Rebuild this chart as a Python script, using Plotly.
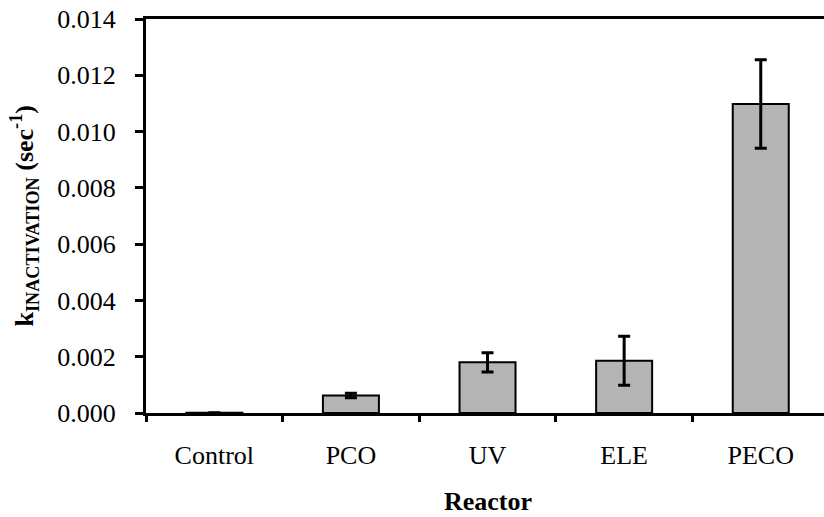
import plotly.graph_objects as go

# Inactivation rate constants per reactor type
reactors = ["Control", "PCO", "UV", "ELE", "PECO"]
k_values = [0.00001, 0.00062, 0.00180, 0.00186, 0.01098]
k_errors = [0.0, 0.00008, 0.00034, 0.00087, 0.00157]

y_ticks = [0.000, 0.002, 0.004, 0.006, 0.008, 0.010, 0.012, 0.014]

FONT = "Liberation Serif"
SIZE = 26

fig = go.Figure()
fig.add_trace(go.Bar(
    x=reactors,
    y=k_values,
    marker=dict(color="#b4b4b4", line=dict(color="black", width=2)),
    error_y=dict(type="data", array=k_errors, visible=True,
                 color="black", thickness=3, width=6),
    width=0.41,
))

fig.update_layout(
    width=824, height=517,
    margin=dict(l=146, r=0, t=19, b=104),
    plot_bgcolor="white", paper_bgcolor="white",
    showlegend=False,
    font=dict(family=FONT, size=SIZE, color="black"),
    xaxis=dict(
        type="category",
        range=[-0.5, 4.463],
        tickson="boundaries",
        ticks="outside", ticklen=6, tickwidth=2.5, tickcolor="black",
        showline=True, linecolor="black", linewidth=3, mirror=True,
        showgrid=False,
        automargin=False,
        ticklabelstandoff=17,
        tickfont=dict(family=FONT, size=SIZE),
    ),
    yaxis=dict(
        range=[0, 0.014],
        tickvals=y_ticks,
        tickformat=".3f",
        ticks="outside", ticklen=8, tickwidth=2.5, tickcolor="black",
        showline=True, linecolor="black", linewidth=3,
        showgrid=False, zeroline=False,
        automargin=False,
        ticklabelstandoff=14,
        tickfont=dict(family=FONT, size=SIZE),
    ),
)

# Axis titles
fig.add_annotation(
    text="<b>k<sub>INACTIVATION</sub> (sec<sup>-1</sup>)</b>",
    xref="paper", yref="paper",
    x=-0.1792, y=0.5, xanchor="center", yanchor="middle",
    textangle=-90, showarrow=False,
    font=dict(family=FONT, size=SIZE, color="black"),
)
fig.add_annotation(
    text="<b>Reactor</b>",
    xref="paper", yref="paper",
    x=0.504, y=-0.186, xanchor="center", yanchor="top",
    showarrow=False, borderpad=0,
    font=dict(family=FONT, size=SIZE, color="black"),
)

fig.write_html("out.html")
